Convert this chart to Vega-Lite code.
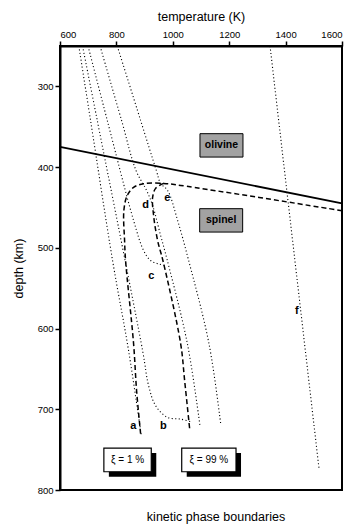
{
  "$schema": "https://vega.github.io/schema/vega-lite/v6.json",
  "width": 282,
  "height": 444,
  "autosize": {"type": "none"},
  "padding": {"left": 60, "top": 46, "right": 21, "bottom": 42},
  "background": "white",
  "config": {
    "font": "Liberation Sans",
    "view": {"stroke": "black", "strokeWidth": 2},
    "axis": {
      "domain": true, "domainColor": "black", "domainWidth": 2, "tickColor": "black", "tickWidth": 1.5,
      "labelColor": "#000", "labelFontSize": 9.5,
      "titleColor": "#000", "titleFontWeight": "normal", "titleFontSize": 12.5,
      "grid": false
    }
  },
  "title": {"text": "kinetic phase boundaries", "orient": "bottom", "anchor": "middle", "dx": 15, "offset": 16, "baseline": "top",
    "fontSize": 12.5, "fontWeight": "normal", "color": "#000"},
  "data": {"values": [
      {"kind": "solid", "c": "boundary", "i": 0, "T": 600, "depth": 375},
      {"kind": "solid", "c": "boundary", "i": 1, "T": 1600, "depth": 445},

      {"kind": "dotted", "c": "a", "i": 0, "T": 666.7, "depth": 250},
      {"kind": "dotted", "c": "a", "i": 1, "T": 708.3, "depth": 342.1},
      {"kind": "dotted", "c": "a", "i": 2, "T": 786.4, "depth": 515.7},
      {"kind": "dotted", "c": "a", "i": 3, "T": 843.2, "depth": 627.3},
      {"kind": "dotted", "c": "a", "i": 4, "T": 888.3, "depth": 732.7},

      {"kind": "dotted", "c": "b", "i": 0, "T": 679.9, "depth": 250},
      {"kind": "dotted", "c": "b", "i": 1, "T": 732.1, "depth": 342.1},
      {"kind": "dotted", "c": "b", "i": 2, "T": 892.9, "depth": 627.3},
      {"kind": "dotted", "c": "b", "i": 3, "T": 914.2, "depth": 670.7},
      {"kind": "dotted", "c": "b", "i": 4, "T": 939.0, "depth": 695.5},
      {"kind": "dotted", "c": "b", "i": 5, "T": 980.6, "depth": 710.0},
      {"kind": "dotted", "c": "b", "i": 6, "T": 1027.8, "depth": 712.2},
      {"kind": "dotted", "c": "b", "i": 7, "T": 1063.3, "depth": 715.3},

      {"kind": "dotted", "c": "c", "i": 0, "T": 699.4, "depth": 250},
      {"kind": "dotted", "c": "c", "i": 1, "T": 767.6, "depth": 342.1},
      {"kind": "dotted", "c": "c", "i": 2, "T": 860.9, "depth": 466.1},
      {"kind": "dotted", "c": "c", "i": 3, "T": 896.4, "depth": 503.3},
      {"kind": "dotted", "c": "c", "i": 4, "T": 921.3, "depth": 515.7},
      {"kind": "dotted", "c": "c", "i": 5, "T": 949.7, "depth": 520.0},
      {"kind": "dotted", "c": "c", "i": 6, "T": 978.1, "depth": 521.9},

      {"kind": "dotted", "c": "d", "i": 0, "T": 742.0, "depth": 250},
      {"kind": "dotted", "c": "d", "i": 1, "T": 818.3, "depth": 342.1},
      {"kind": "dotted", "c": "d", "i": 2, "T": 869.4, "depth": 404.1},
      {"kind": "dotted", "c": "d", "i": 3, "T": 907.1, "depth": 428.9},
      {"kind": "dotted", "c": "d", "i": 4, "T": 928.4, "depth": 447.5},
      {"kind": "dotted", "c": "d", "i": 5, "T": 956.8, "depth": 484.7},
      {"kind": "dotted", "c": "d", "i": 6, "T": 980.6, "depth": 515.7},
      {"kind": "dotted", "c": "d", "i": 7, "T": 1051.6, "depth": 618.6},
      {"kind": "dotted", "c": "d", "i": 8, "T": 1096.3, "depth": 720.3},

      {"kind": "dotted", "c": "e", "i": 0, "T": 803.1, "depth": 250},
      {"kind": "dotted", "c": "e", "i": 1, "T": 885.8, "depth": 342.1},
      {"kind": "dotted", "c": "e", "i": 2, "T": 941.5, "depth": 404.1},
      {"kind": "dotted", "c": "e", "i": 3, "T": 956.8, "depth": 420.2},
      {"kind": "dotted", "c": "e", "i": 4, "T": 981.6, "depth": 428.9},
      {"kind": "dotted", "c": "e", "i": 5, "T": 1017.1, "depth": 466.1},
      {"kind": "dotted", "c": "e", "i": 6, "T": 1056.2, "depth": 515.7},
      {"kind": "dotted", "c": "e", "i": 7, "T": 1128.2, "depth": 618.6},
      {"kind": "dotted", "c": "e", "i": 8, "T": 1169.8, "depth": 717.8},

      {"kind": "dotted", "c": "f", "i": 0, "T": 1344.8, "depth": 250},
      {"kind": "dotted", "c": "f", "i": 1, "T": 1518.7, "depth": 774},

      {"kind": "dashed", "c": "xi1", "i": 0, "T": 1600, "depth": 454},
      {"kind": "dashed", "c": "xi1", "i": 1, "T": 1027.8, "depth": 422.7},
      {"kind": "dashed", "c": "xi1", "i": 2, "T": 967.4, "depth": 420.2},
      {"kind": "dashed", "c": "xi1", "i": 3, "T": 896.4, "depth": 420.6},
      {"kind": "dashed", "c": "xi1", "i": 4, "T": 860.9, "depth": 425.2},
      {"kind": "dashed", "c": "xi1", "i": 5, "T": 838.6, "depth": 435.1},
      {"kind": "dashed", "c": "xi1", "i": 6, "T": 826.5, "depth": 453.7},
      {"kind": "dashed", "c": "xi1", "i": 7, "T": 829.0, "depth": 490.9},
      {"kind": "dashed", "c": "xi1", "i": 8, "T": 832.5, "depth": 515.7},
      {"kind": "dashed", "c": "xi1", "i": 9, "T": 860.9, "depth": 618.6},
      {"kind": "dashed", "c": "xi1", "i": 10, "T": 871.6, "depth": 676.9},
      {"kind": "dashed", "c": "xi1", "i": 11, "T": 885.8, "depth": 730.2},

      {"kind": "dashed", "c": "xi99", "i": 0, "T": 967.4, "depth": 420.2},
      {"kind": "dashed", "c": "xi99", "i": 1, "T": 939.0, "depth": 426.4},
      {"kind": "dashed", "c": "xi99", "i": 2, "T": 928.4, "depth": 437.6},
      {"kind": "dashed", "c": "xi99", "i": 3, "T": 931.9, "depth": 459.9},
      {"kind": "dashed", "c": "xi99", "i": 4, "T": 946.1, "depth": 490.9},
      {"kind": "dashed", "c": "xi99", "i": 5, "T": 964.9, "depth": 515.7},
      {"kind": "dashed", "c": "xi99", "i": 6, "T": 1027.8, "depth": 618.6},
      {"kind": "dashed", "c": "xi99", "i": 7, "T": 1042.0, "depth": 664.5},
      {"kind": "dashed", "c": "xi99", "i": 8, "T": 1059.7, "depth": 724},

      {"kind": "letter", "c": "a", "T": 859.9, "depth": 720.3},
      {"kind": "letter", "c": "b", "T": 966.4, "depth": 720.3},
      {"kind": "letter", "c": "c", "T": 923.8, "depth": 534.3},
      {"kind": "letter", "c": "d", "T": 903.5, "depth": 447.5},
      {"kind": "letter", "c": "e", "T": 980.6, "depth": 438.0},
      {"kind": "letter", "c": "f", "T": 1439.6, "depth": 577.7},

      {"kind": "phase", "c": "olivine", "T": 1172.6, "depth": 373.1},
      {"kind": "phase", "c": "spinel", "T": 1171.5, "depth": 466.0},

      {"kind": "legend1", "c": "ξ = 1 %", "T": 839.6, "depth": 762.7},
      {"kind": "legend99", "c": "ξ = 99 %", "T": 1127.9, "depth": 762.7}
  ]},
  "encoding": {
    "x": {"field": "T", "type": "quantitative", "scale": {"domain": [600, 1600], "nice": false, "zero": false},
      "axis": {"orient": "top", "values": [600, 800, 1000, 1200, 1400, 1600], "format": "d", "tickSize": 5, "labelPadding": 2,
        "title": "temperature (K)", "titlePadding": 6}},
    "y": {"field": "depth", "type": "quantitative", "scale": {"domain": [250, 800], "reverse": true, "nice": false, "zero": false},
      "axis": {"orient": "left", "values": [300, 400, 500, 600, 700, 800], "format": "d", "tickSize": 5, "labelPadding": 2,
        "title": "depth (km)", "titlePadding": 12}}
  },
  "layer": [
    {
      "transform": [{"filter": "datum.kind === 'solid'"}],
      "mark": {"type": "line", "color": "#000", "strokeWidth": 1.8},
      "encoding": {"detail": {"field": "c"}, "order": {"field": "i", "type": "quantitative"}}
    },
    {
      "transform": [{"filter": "datum.kind === 'dotted'"}],
      "mark": {"type": "line", "color": "#000", "strokeWidth": 1.1, "strokeDash": [1.1, 2.4], "interpolate": "catmull-rom"},
      "encoding": {"detail": {"field": "c"}, "order": {"field": "i", "type": "quantitative"}}
    },
    {
      "transform": [{"filter": "datum.kind === 'dashed'"}],
      "mark": {"type": "line", "color": "#000", "strokeWidth": 1.5, "strokeDash": [5, 3], "interpolate": "catmull-rom"},
      "encoding": {"detail": {"field": "c"}, "order": {"field": "i", "type": "quantitative"}}
    },
    {
      "transform": [{"filter": "datum.kind === 'legend1'"}],
      "mark": {"type": "point", "shape": "M-1,-0.5H1V0.5H-1Z", "size": 2247, "filled": true, "color": "#000", "opacity": 1, "xOffset": 5, "yOffset": 5}
    },
    {
      "transform": [{"filter": "datum.kind === 'legend99'"}],
      "mark": {"type": "point", "shape": "M-1,-0.4365H1V0.4365H-1Z", "size": 2948, "filled": true, "color": "#000", "opacity": 1, "xOffset": 5, "yOffset": 5}
    },
    {
      "transform": [{"filter": "datum.kind === 'legend1'"}],
      "mark": {"type": "point", "shape": "M-1,-0.5H1V0.5H-1Z", "size": 2247, "filled": false, "fill": "#fff", "stroke": "#000", "strokeWidth": 1.2, "opacity": 1, "fillOpacity": 1}
    },
    {
      "transform": [{"filter": "datum.kind === 'legend99'"}],
      "mark": {"type": "point", "shape": "M-1,-0.4365H1V0.4365H-1Z", "size": 2948, "filled": false, "fill": "#fff", "stroke": "#000", "strokeWidth": 1.2, "opacity": 1, "fillOpacity": 1}
    },
    {
      "transform": [{"filter": "datum.kind === 'legend1' || datum.kind === 'legend99'"}],
      "mark": {"type": "text", "fontSize": 10, "color": "#000", "align": "center", "baseline": "middle"},
      "encoding": {"text": {"field": "c"}}
    },
    {
      "transform": [{"filter": "datum.kind === 'phase'"}],
      "mark": {"type": "point", "shape": "M-1,-0.544H1V0.544H-1Z", "size": 1849, "filled": false, "fill": "#a2a2a2", "stroke": "#000", "strokeWidth": 1, "opacity": 1, "fillOpacity": 1}
    },
    {
      "transform": [{"filter": "datum.kind === 'phase'"}],
      "mark": {"type": "text", "fontSize": 10.5, "fontWeight": "bold", "color": "#000", "align": "center", "baseline": "middle"},
      "encoding": {"text": {"field": "c"}}
    },
    {
      "transform": [{"filter": "datum.kind === 'letter'"}],
      "mark": {"type": "text", "fontSize": 11, "fontWeight": "bold", "color": "#000", "align": "center", "baseline": "middle"},
      "encoding": {"text": {"field": "c"}}
    }
  ]
}
